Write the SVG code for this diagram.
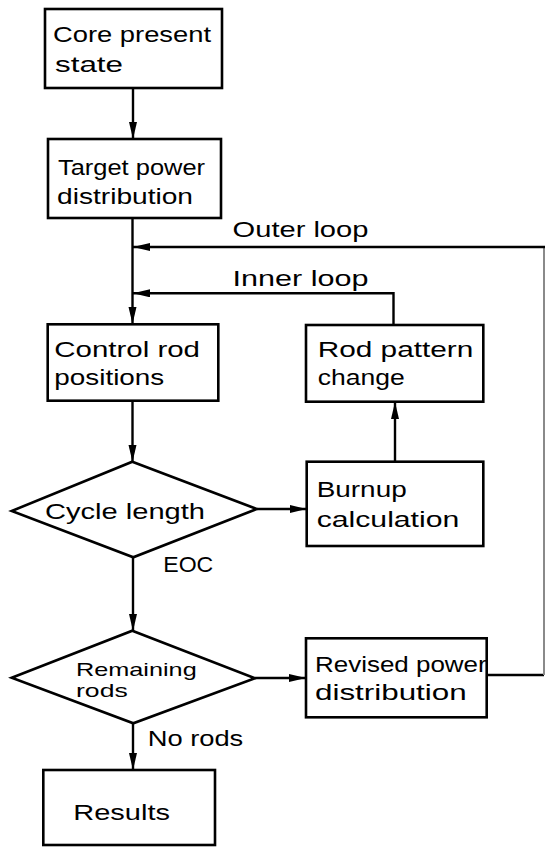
<svg xmlns="http://www.w3.org/2000/svg" width="546" height="847" viewBox="0 0 546 847">
<style>
.box{fill:#fff;stroke:#000;stroke-width:2.6}
.ln{fill:none;stroke:#000;stroke-width:2.4}
text{font-family:"Liberation Sans",Arial,sans-serif;font-size:22px;fill:#000}
.sm{font-size:19px}
</style>
<defs>
<marker id="ah" markerUnits="userSpaceOnUse" markerWidth="18" markerHeight="9" refX="17" refY="4" orient="auto">
<path d="M0,0 L17,4 L0,8 z" fill="#000"/>
</marker>
</defs>
<rect width="546" height="847" fill="#fff"/>
<g id="connectors">
<path class="ln" d="M133,88 V139" marker-end="url(#ah)"/>
<path class="ln" d="M132.5,218 V324"  marker-end="url(#ah)"/>
<path class="ln" d="M487,675 H544"/>
<path d="M544,675 V247" fill="none" stroke="#8a8a8a" stroke-width="2"/>
<path class="ln" d="M545,247 H133" marker-end="url(#ah)"/>
<path class="ln" d="M393.5,325 V293.3 H133" marker-end="url(#ah)"/>
<path class="ln" d="M132.5,401 V462" marker-end="url(#ah)"/>
<path class="ln" d="M257,509 H306.5" marker-end="url(#ah)"/>
<path class="ln" d="M395,462 V402" marker-end="url(#ah)"/>
<path class="ln" d="M133,557 V631" marker-end="url(#ah)"/>
<path class="ln" d="M255,678 H306" marker-end="url(#ah)"/>
<path class="ln" d="M133,723 V770" marker-end="url(#ah)"/>
<text x="232.6" y="237.3" textLength="135.8" lengthAdjust="spacingAndGlyphs">Outer loop</text>
<text x="232.6" y="286" textLength="135.8" lengthAdjust="spacingAndGlyphs">Inner loop</text>
<text x="163.3" y="571.7" textLength="50" lengthAdjust="spacingAndGlyphs">EOC</text>
<text x="147.7" y="746" textLength="95.6" lengthAdjust="spacingAndGlyphs">No rods</text>
</g>
<g id="core">
<rect class="box" x="45" y="9" width="177" height="79"/>
<text x="53" y="41.5" textLength="158" lengthAdjust="spacingAndGlyphs">Core present</text>
<text x="55" y="71.7" textLength="68" lengthAdjust="spacingAndGlyphs">state</text>
</g>
<g id="target">
<rect class="box" x="48" y="139" width="173" height="79"/>
<text x="58" y="175" textLength="147" lengthAdjust="spacingAndGlyphs">Target power</text>
<text x="57" y="204" textLength="136" lengthAdjust="spacingAndGlyphs">distribution</text>
</g>
<g id="control">
<rect class="box" x="47.7" y="324.3" width="170.6" height="76.4"/>
<text x="54.3" y="356.7" textLength="145.7" lengthAdjust="spacingAndGlyphs">Control rod</text>
<text x="54.3" y="385" textLength="110" lengthAdjust="spacingAndGlyphs">positions</text>
</g>
<g id="rodpattern">
<rect class="box" x="306" y="325" width="177.3" height="76.7"/>
<text x="317.7" y="356.7" textLength="155.6" lengthAdjust="spacingAndGlyphs">Rod pattern</text>
<text x="317.7" y="385" textLength="87" lengthAdjust="spacingAndGlyphs">change</text>
</g>
<g id="cycle">
<path class="box" d="M132.3,461.7 L256.7,509 L133.3,557.3 L11.7,511 z"/>
<text x="45" y="519" textLength="160" lengthAdjust="spacingAndGlyphs">Cycle length</text>
</g>
<g id="burnup">
<rect class="box" x="306.7" y="461.7" width="176.6" height="84.3"/>
<text x="316.7" y="496.7" textLength="90" lengthAdjust="spacingAndGlyphs">Burnup</text>
<text x="316.7" y="527.3" textLength="142.6" lengthAdjust="spacingAndGlyphs">calculation</text>
</g>
<g id="remaining">
<path class="box" d="M132.3,630.7 L255,678.3 L133.3,723.3 L11.7,677.7 z"/>
<text class="sm" x="76" y="676" textLength="120.7" lengthAdjust="spacingAndGlyphs">Remaining</text>
<text class="sm" x="76" y="697" textLength="51.7" lengthAdjust="spacingAndGlyphs">rods</text>
</g>
<g id="revised">
<rect class="box" x="306" y="638.3" width="180.7" height="79"/>
<text x="315" y="671.7" textLength="171.7" lengthAdjust="spacingAndGlyphs">Revised power</text>
<text x="315" y="700" textLength="151.7" lengthAdjust="spacingAndGlyphs">distribution</text>
</g>
<g id="results">
<rect class="box" x="43.3" y="770" width="171.7" height="75"/>
<text x="73.3" y="820" textLength="96.7" lengthAdjust="spacingAndGlyphs">Results</text>
</g>
</svg>
